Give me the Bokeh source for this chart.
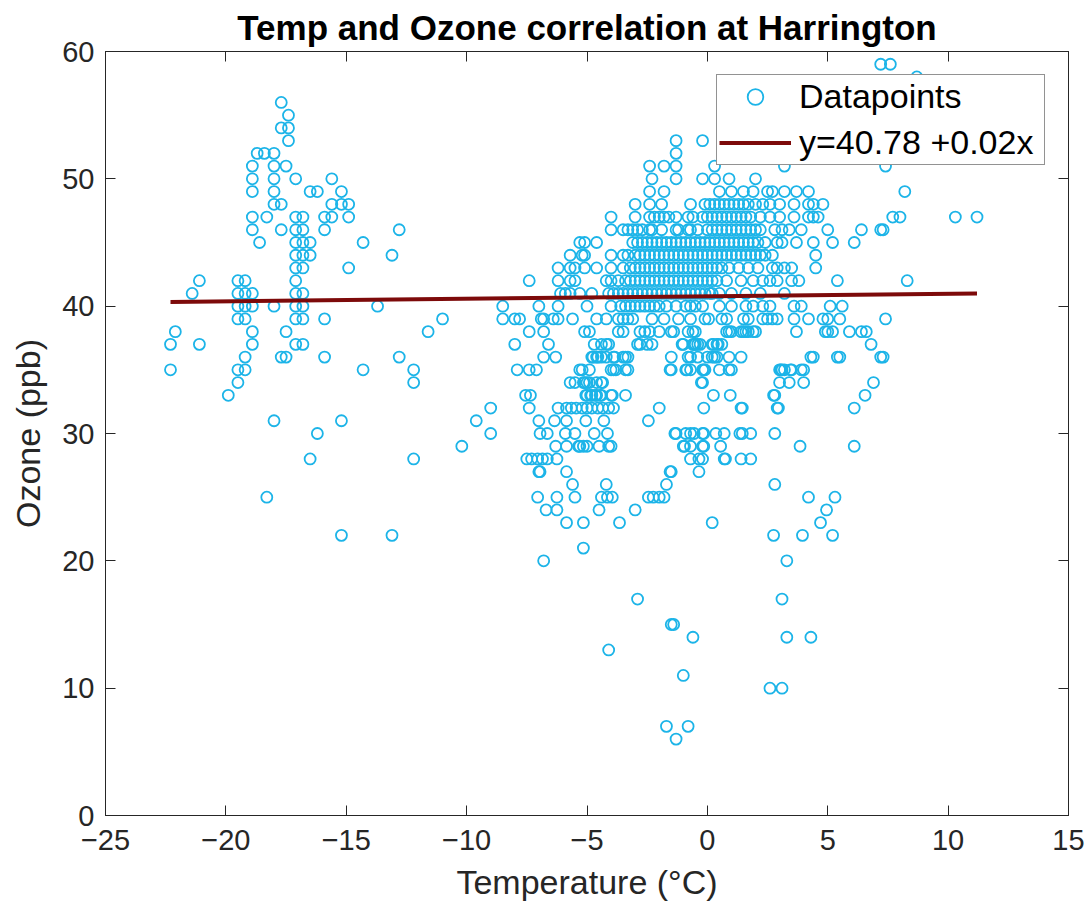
from bokeh.plotting import figure
from bokeh.models import (ColumnDataSource, LinearAxis, Range1d, Legend,
                          LegendItem, FixedTicker, Title)
from bokeh.embed import file_html
from bokeh.resources import INLINE

# Temperatures (degC) observed at each ozone level (ppb)
temps_at_59 = [7.2, 7.6]
temps_at_58 = [8.7]
temps_at_56 = [-17.7]
temps_at_55 = [-17.4]
temps_at_54 = [-17.7, -17.4]
temps_at_53 = [-17.4, -1.3, -0.2]
temps_at_52 = [-18.7, -18.4, -18.0, -1.3]
temps_at_51 = [-18.9, -18.0, -17.5, -2.4, -1.8, -1.3, 0.3, 3.2, 7.4]
temps_at_50 = [-18.9, -18.0, -17.1, -15.6, -2.3, -1.3, -0.2, 0.3, 0.9, 2.0]
temps_at_49 = [-18.9, -18.0, -16.5, -16.2, -15.2, -2.4, -1.8, 0.5, 1.0, 1.5,
               1.9, 2.5, 2.7, 3.2, 3.7, 4.2, 8.2]
temps_at_48 = [-18.0, -17.7, -15.6, -15.2, -14.9, -3.0, -2.4, -1.9, -0.7, -0.1,
               0.1, 0.3, 0.5, 0.7, 0.9, 1.1, 1.3, 1.5, 1.7, 2.0, 2.3, 2.6, 3.0,
               3.6, 4.2, 4.4, 4.8]
temps_at_47 = [-18.9, -18.3, -17.1, -16.8, -15.9, -15.6, -14.9, -4.0, -3.0, -2.4,
               -2.2, -2.0, -1.8, -1.6, -1.3, -0.8, -0.6, -0.2, 0.0, 0.2, 0.4, 0.6,
               0.8, 1.0, 1.2, 1.4, 1.6, 1.8, 2.2, 2.6, 3.0, 3.6, 4.2, 4.4, 4.6,
               7.7, 8.0, 10.3, 11.2]
temps_at_46 = [-18.9, -17.7, -17.1, -16.8, -15.9, -12.8, -4.0, -3.5, -3.3, -3.1,
               -2.9, -2.7, -2.4, -2.3, -1.9, -1.3, -1.2, -0.8, -0.7, -0.4, 0.0,
               0.2, 0.4, 0.6, 0.8, 1.0, 1.2, 1.4, 1.6, 1.8, 2.0, 2.2, 2.8, 3.1,
               3.4, 3.9, 5.0, 6.4, 7.2, 7.3]
temps_at_45 = [-18.6, -17.1, -16.8, -16.5, -14.3, -5.3, -5.1, -4.6, -3.1, -2.9,
               -2.7, -2.5, -2.3, -2.1, -1.9, -1.7, -1.5, -1.3, -1.1, -0.9, -0.7,
               -0.5, -0.3, -0.1, 0.1, 0.3, 0.5, 0.7, 0.9, 1.1, 1.3, 1.5, 1.7, 1.9,
               2.1, 2.4, 2.9, 3.1, 3.7, 4.4, 5.2, 6.1]
temps_at_44 = [-17.1, -16.8, -16.5, -13.1, -5.7, -5.2, -5.1, -4.0, -3.5, -3.3,
               -3.0, -2.8, -2.6, -2.4, -2.2, -2.0, -1.8, -1.6, -1.4, -1.2, -1.0,
               -0.8, -0.6, -0.4, -0.2, 0.0, 0.2, 0.4, 0.6, 0.8, 1.0, 1.2, 1.4,
               1.6, 1.8, 2.0, 2.2, 2.4, 2.7, 4.5]
temps_at_43 = [-17.1, -16.8, -14.9, -6.2, -5.7, -5.5, -5.1, -4.6, -4.0, -3.5,
               -3.2, -3.0, -2.8, -2.6, -2.4, -2.2, -2.0, -1.8, -1.6, -1.4, -1.2,
               -1.0, -0.8, -0.6, -0.4, -0.2, 0.0, 0.2, 0.4, 0.6, 0.9, 1.3, 1.7,
               2.1, 2.7, 2.9, 3.2, 3.5, 4.5]
temps_at_42 = [-21.1, -19.5, -19.2, -17.1, -7.4, -6.2, -5.7, -5.5, -4.2, -4.0,
               -3.7, -3.4, -3.2, -3.0, -2.8, -2.6, -2.4, -2.2, -2.0, -1.8, -1.6,
               -1.4, -1.2, -1.0, -0.8, -0.6, -0.4, -0.2, 0.0, 0.2, 0.4, 0.8, 1.4,
               1.9, 2.3, 2.6, 2.9, 3.5, 3.8, 5.4, 8.3]
temps_at_41 = [-21.4, -19.5, -19.2, -18.9, -17.1, -16.8, -6.1, -5.9, -5.7, -5.3,
               -4.8, -4.1, -3.9, -3.7, -3.5, -3.3, -3.1, -2.9, -2.7, -2.5, -2.3,
               -2.1, -1.9, -1.7, -1.5, -1.3, -1.1, -0.9, -0.7, -0.5, -0.3, -0.1,
               0.1, 0.2, 0.5, 1.0, 1.6, 2.2, 3.2]
temps_at_40 = [-19.5, -19.2, -18.9, -18.0, -17.1, -16.8, -13.7, -8.5, -7.0, -6.2,
               -5.0, -4.0, -3.6, -3.4, -3.2, -3.0, -2.8, -2.6, -2.4, -2.2, -2.0,
               -1.7, -1.3, -0.9, -0.7, -0.5, -0.2, 0.5, 1.0, 1.6, 1.9, 2.3, 2.6,
               3.6, 3.9, 5.1, 5.6]
temps_at_39 = [-19.5, -19.2, -17.1, -16.8, -15.9, -11.0, -8.5, -8.0, -7.8, -6.9,
               -6.8, -6.4, -6.2, -5.6, -4.6, -4.2, -3.7, -3.5, -3.3, -3.1, -2.3,
               -1.8, -1.2, -0.7, -0.1, 0.05, 0.6, 0.8, 1.5, 1.7, 2.3, 2.5, 2.7,
               2.9, 3.6, 4.2, 4.8, 5.0, 5.5, 7.4]
temps_at_38 = [-22.1, -18.9, -17.5, -11.6, -7.4, -6.8, -5.1, -4.9, -3.7, -3.5,
               -2.8, -2.6, -2.4, -2.0, -1.5, -1.4, -0.8, -0.6, -0.5, 0.8, 0.9,
               1.0, 1.4, 1.5, 1.6, 1.7, 1.9, 2.0, 3.7, 4.9, 5.0, 5.2, 5.9, 6.4, 6.6]
temps_at_37 = [-22.3, -21.1, -18.9, -17.1, -16.8, -8.0, -6.6, -4.7, -4.4, -4.2,
               -4.1, -2.9, -2.8, -2.5, -2.3, -1.05, -1.0, -0.6, -0.55, -0.5, -0.4,
               -0.3, 0.2, 0.25, 0.4, 0.45, 0.6, 6.8]
temps_at_36 = [-19.2, -17.7, -17.5, -15.9, -12.8, -6.8, -6.3, -4.8, -4.75, -4.6,
               -4.55, -4.4, -4.2, -3.9, -3.85, -3.5, -3.4, -3.3, -1.5, -0.8, -0.7,
               -0.4, 0.0, 0.2, 0.3, 0.4, 0.9, 1.4, 4.3, 4.4, 5.4, 5.5, 7.2, 7.3]
temps_at_35 = [-22.3, -19.5, -19.2, -14.3, -12.2, -7.9, -7.4, -7.1, -5.3, -5.2,
               -4.9, -4.0, -3.9, -3.8, -3.4, -3.3, -1.55, -1.5, -0.9, -0.85, -0.7,
               -0.2, -0.15, -0.1, 0.5, 0.9, 1.0, 3.0, 3.05, 3.1, 3.2, 3.45, 3.5,
               3.9, 4.0]
temps_at_34 = [-19.5, -12.2, -5.7, -5.5, -5.15, -5.1, -5.0, -4.9, -4.6, -4.4,
               -4.35, -0.25, -0.2, 3.0, 3.4, 4.0, 6.9]
temps_at_33 = [-19.9, -7.55, -7.35, -5.05, -5.0, -4.85, -4.8, -4.65, -4.6, -4.45,
               -4.4, -4.0, -3.95, -3.4, 0.25, 0.95, 2.75, 2.8, 6.55]
temps_at_32 = [-9.0, -7.4, -6.2, -5.85, -5.65, -5.45, -5.2, -5.0, -4.8, -4.55,
               -4.35, -4.1, -3.9, -2.0, -0.15, 1.4, 1.45, 2.9, 2.95, 6.1]
temps_at_31 = [-18.0, -15.2, -9.6, -7.0, -6.35, -5.85, -5.05, -4.3, -2.45]
temps_at_30 = [-16.2, -9.0, -6.95, -6.65, -5.9, -5.5, -4.7, -4.15, -1.35, -1.3,
               -0.9, -0.7, -0.55, -0.2, -0.15, 0.35, 0.7, 1.35, 1.45, 1.8, 2.8]
temps_at_29 = [-10.2, -6.3, -5.85, -5.35, -5.3, -5.15, -5.0, -4.5, -4.1, -4.0,
               -1.0, -0.95, -0.7, -0.2, -0.15, 0.55, 3.85, 6.1]
temps_at_28 = [-16.5, -12.2, -7.5, -7.3, -7.05, -6.85, -6.65, -6.25, -0.7, -0.35,
               -0.2, 0.7, 0.75, 1.4, 1.8]
temps_at_27 = [-7.0, -6.95, -5.85, -1.55, -1.5, -0.35]
temps_at_26 = [-5.6, -4.2, -1.7, 2.8]
temps_at_25 = [-18.3, -7.05, -6.25, -5.5, -4.4, -4.15, -3.95, -2.45, -2.25, -2.0,
               -1.8, 4.2, 5.3]
temps_at_24 = [-6.7, -6.25, -4.5, -3.0, 4.95]
temps_at_23 = [-5.85, -5.15, -3.65, 0.2, 4.7]
temps_at_22 = [-15.2, -13.1, 2.75, 3.95, 5.2]
temps_at_21 = [-5.15]
temps_at_20 = [-6.8, 3.3]
temps_at_17 = [-2.9, 3.1]
temps_at_15 = [-1.5, -1.4]
temps_at_14 = [-0.6, 3.3, 4.3]
temps_at_13 = [-4.1]
temps_at_11 = [-1.0]
temps_at_10 = [2.6, 3.1]
temps_at_7 = [-1.7, -0.8]
temps_at_6 = [-1.3]

# Linear fit as reported: ozone = 40.78 + 0.02 * temperature
fit_intercept = 40.78
fit_slope = 0.02
fit_label = "y=40.78 +0.02x"

x_ticks = [-25, -20, -15, -10, -5, 0, 5, 10, 15]
y_ticks = [0, 10, 20, 30, 40, 50, 60]

levels = [
    (59, temps_at_59), (58, temps_at_58), (56, temps_at_56), (55, temps_at_55),
    (54, temps_at_54), (53, temps_at_53), (52, temps_at_52), (51, temps_at_51),
    (50, temps_at_50), (49, temps_at_49), (48, temps_at_48), (47, temps_at_47),
    (46, temps_at_46), (45, temps_at_45), (44, temps_at_44), (43, temps_at_43),
    (42, temps_at_42), (41, temps_at_41), (40, temps_at_40), (39, temps_at_39),
    (38, temps_at_38), (37, temps_at_37), (36, temps_at_36), (35, temps_at_35),
    (34, temps_at_34), (33, temps_at_33), (32, temps_at_32), (31, temps_at_31),
    (30, temps_at_30), (29, temps_at_29), (28, temps_at_28), (27, temps_at_27),
    (26, temps_at_26), (25, temps_at_25), (24, temps_at_24), (23, temps_at_23),
    (22, temps_at_22), (21, temps_at_21), (20, temps_at_20), (17, temps_at_17),
    (15, temps_at_15), (14, temps_at_14), (13, temps_at_13), (11, temps_at_11),
    (10, temps_at_10), (7, temps_at_7), (6, temps_at_6),
]

temperature = []
ozone = []
for level, temps in levels:
    temperature.extend(temps)
    ozone.extend([level] * len(temps))

points = ColumnDataSource(data=dict(temperature=temperature, ozone=ozone))

fit_x = [min(temperature), max(temperature)]
fit_y = [fit_intercept + fit_slope * t for t in fit_x]
fit = ColumnDataSource(data=dict(x=fit_x, y=fit_y))

FONT = "Liberation Sans"
INK = "#262626"
POINT_COLOR = "#1cb4e8"
LINE_COLOR = "#7d0a0a"

p = figure(width=1090, height=907,
           x_range=Range1d(-25, 15), y_range=Range1d(0, 60),
           output_backend="svg", toolbar_location=None,
           min_border_left=105, min_border_right=22,
           min_border_top=50, min_border_bottom=92)

p.title = Title(text="Temp and Ozone correlation at Harrington",
                align="center", text_font=FONT, text_font_size="35px",
                text_font_style="bold", text_color="black", standoff=10)

p.xgrid.visible = False
p.ygrid.visible = False
p.outline_line_color = INK
p.outline_line_width = 1
p.background_fill_color = "white"
p.border_fill_color = "white"

for ax, ticks in ((p.xaxis[0], x_ticks), (p.yaxis[0], y_ticks)):
    ax.ticker = FixedTicker(ticks=ticks)
    ax.major_tick_in = 10
    ax.major_tick_out = 0
    ax.minor_tick_line_color = None
    ax.axis_line_color = INK
    ax.major_tick_line_color = INK
    ax.major_label_text_font = FONT
    ax.major_label_text_font_size = "29px"
    ax.major_label_text_color = INK
    ax.axis_label_text_font = FONT
    ax.axis_label_text_font_size = "34px"
    ax.axis_label_text_font_style = "normal"
    ax.axis_label_text_color = INK

p.xaxis.axis_label = "Temperature (°C)"
p.yaxis.axis_label = "Ozone (ppb)"
p.xaxis.major_label_standoff = 14
p.xaxis.axis_label_standoff = 10
p.yaxis.major_label_standoff = 11
p.yaxis.axis_label_standoff = 12

# Tick marks (no labels) on the top and right edges of the box
for side, ticks in (("above", x_ticks), ("right", y_ticks)):
    extra = LinearAxis(ticker=FixedTicker(ticks=ticks))
    extra.major_label_overrides = {t: "" for t in ticks}
    extra.major_tick_in = 10
    extra.major_tick_out = 0
    extra.minor_tick_line_color = None
    extra.axis_line_color = INK
    extra.major_tick_line_color = INK
    extra.major_label_text_font_size = "2px"
    extra.major_label_standoff = 0
    p.add_layout(extra, side)

dots = p.scatter(x="temperature", y="ozone", source=points, marker="circle",
                 size=11, fill_color=None, line_color=POINT_COLOR,
                 line_width=1.8)
trend = p.line(x="x", y="y", source=fit, line_color=LINE_COLOR, line_width=4)

legend = Legend(items=[LegendItem(label="Datapoints", renderers=[dots]),
                       LegendItem(label=fit_label, renderers=[trend])],
                location="top_right")
legend.margin = 23
legend.padding = 2
legend.spacing = 7
legend.glyph_width = 72
legend.glyph_height = 39
legend.label_height = 39
legend.label_width = 243
legend.label_standoff = 8
legend.label_text_font = FONT
legend.label_text_font_size = "34px"
legend.label_text_color = "black"
legend.border_line_color = INK
legend.border_line_width = 1
legend.background_fill_color = "white"
legend.background_fill_alpha = 1.0
p.add_layout(legend, "center")

open("out.html", "w").write(file_html(p, INLINE))
